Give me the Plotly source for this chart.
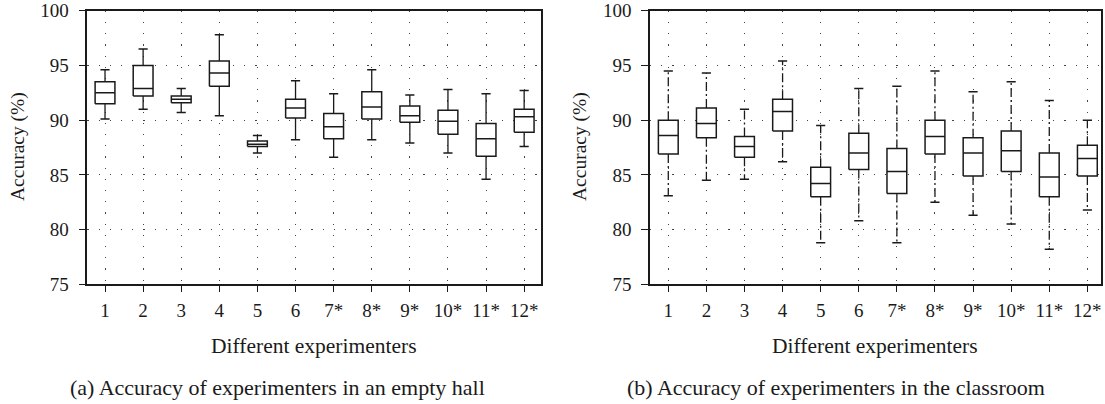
import plotly.graph_objects as go

categories = ["1", "2", "3", "4", "5", "6", "7*", "8*", "9*", "10*", "11*", "12*"]
positions = list(range(1, 13))

# (a) empty hall
hall_upper = [94.6, 96.5, 92.9, 97.8, 88.6, 93.6, 92.4, 94.6, 92.3, 92.8, 92.4, 92.7]
hall_q3 = [93.5, 95.0, 92.2, 95.4, 88.1, 91.9, 90.6, 92.6, 91.3, 90.9, 89.7, 91.0]
hall_median = [92.5, 92.9, 91.9, 94.3, 87.8, 91.1, 89.4, 91.2, 90.4, 89.9, 88.3, 90.3]
hall_q1 = [91.5, 92.2, 91.6, 93.1, 87.6, 90.2, 88.3, 90.1, 89.8, 88.7, 86.7, 88.9]
hall_lower = [90.1, 91.0, 90.7, 90.4, 87.0, 88.2, 86.6, 88.2, 87.9, 87.0, 84.6, 87.6]

# (b) classroom
class_upper = [94.5, 94.3, 91.0, 95.4, 89.5, 92.9, 93.1, 94.5, 92.6, 93.5, 91.8, 90.0]
class_q3 = [90.0, 91.1, 88.5, 91.9, 85.7, 88.8, 87.4, 90.0, 88.4, 89.0, 87.0, 87.7]
class_median = [88.6, 89.7, 87.6, 90.8, 84.2, 87.0, 85.3, 88.5, 87.0, 87.2, 84.8, 86.5]
class_q1 = [86.9, 88.4, 86.6, 89.0, 83.0, 85.5, 83.3, 86.9, 84.9, 85.3, 83.0, 84.9]
class_lower = [83.1, 84.5, 84.6, 86.2, 78.8, 80.8, 78.8, 82.5, 81.3, 80.5, 78.2, 81.8]

FONT = "Liberation Serif"
INK = "#1a1a1a"
BW = 0.26   # box half width (category units)
CW = 0.12   # cap half width

fig = go.Figure()


def add_boxes(xaxis, yaxis, upper, q3, med, q1, lower, whisker_dash):
    bx, by, mx, my, wx, wy, cx, cy = [], [], [], [], [], [], [], []
    for p, u, a, m, b, l in zip(positions, upper, q3, med, q1, lower):
        bx += [p - BW, p + BW, p + BW, p - BW, p - BW, None]
        by += [b, b, a, a, b, None]
        mx += [p - BW, p + BW, None]
        my += [m, m, None]
        wx += [p, p, None, p, p, None]
        wy += [a, u, None, b, l, None]
        cx += [p - CW, p + CW, None, p - CW, p + CW, None]
        cy += [u, u, None, l, l, None]
    common = dict(xaxis=xaxis, yaxis=yaxis, mode="lines", showlegend=False, hoverinfo="skip")
    fig.add_trace(go.Scatter(x=wx, y=wy, line=dict(color=INK, width=1.3, dash=whisker_dash), **common))
    fig.add_trace(go.Scatter(x=cx, y=cy, line=dict(color=INK, width=1.5), **common))
    fig.add_trace(go.Scatter(x=bx, y=by, line=dict(color=INK, width=1.5),
                             fill="toself", fillcolor="white", **common))
    fig.add_trace(go.Scatter(x=mx, y=my, line=dict(color=INK, width=1.5), **common))


add_boxes("x", "y", hall_upper, hall_q3, hall_median, hall_q1, hall_lower, "solid")
add_boxes("x2", "y2", class_upper, class_q3, class_median, class_q1, class_lower, "9px,3px,2px,3px")

W, H = 1105, 404
xd1 = [87.3 / W, 541.3 / W]
xd2 = [650.0 / W, 1100.7 / W]
yd = [1 - 284.3 / H, 1 - 10.7 / H]

TICKSIZE = 19
YTITLESIZE = 19.5
XTITLESIZE = 21.5
CAPSIZE = 22

xcommon = dict(
    tickmode="array", tickvals=positions, ticktext=categories,
    showline=True, linecolor=INK, linewidth=1.5, mirror=True,
    ticks="outside", ticklen=6, tickcolor=INK, tickwidth=1.2,
    showgrid=True, gridcolor="#444", gridwidth=1.2, griddash="1.2px,10px",
    zeroline=False, automargin=False, ticklabelstandoff=2,
    tickfont=dict(family=FONT, size=TICKSIZE, color=INK),
)
ycommon = dict(
    range=[75, 100], tickmode="array", tickvals=[75, 80, 85, 90, 95, 100],
    showline=True, linecolor=INK, linewidth=1.5, mirror=True,
    ticks="outside", ticklen=7, tickcolor=INK, tickwidth=1.2,
    showgrid=True, gridcolor="#444", gridwidth=1.2, griddash="1.2px,10px",
    zeroline=False, automargin=False, ticklabelstandoff=6,
    tickfont=dict(family=FONT, size=TICKSIZE, color=INK),
)

fig.update_layout(
    template="none",
    width=W, height=H,
    margin=dict(l=0, r=0, t=0, b=0, autoexpand=False),
    paper_bgcolor="white", plot_bgcolor="white",
    xaxis=dict(domain=xd1, range=[0.535, 12.45], anchor="y", **xcommon),
    yaxis=dict(domain=yd, anchor="x", **ycommon),
    xaxis2=dict(domain=xd2, range=[0.52, 12.35], anchor="y2", **xcommon),
    yaxis2=dict(domain=yd, anchor="x2", **ycommon),
    font=dict(family=FONT, color=INK),
)

yt_font = dict(family=FONT, size=YTITLESIZE, color=INK)
xt_font = dict(family=FONT, size=XTITLESIZE, color=INK)
cap_font = dict(family=FONT, size=CAPSIZE, color=INK)
annotations = [
    dict(text="Accuracy (%)", x=18 / W, y=1 - 147 / H, textangle=-90, font=yt_font),
    dict(text="Accuracy (%)", x=580 / W, y=1 - 147 / H, textangle=-90, font=yt_font),
    dict(text="Different experimenters", x=(xd1[0] + xd1[1]) / 2, y=1 - 346 / H, font=xt_font),
    dict(text="Different experimenters", x=(xd2[0] + xd2[1]) / 2, y=1 - 346 / H, font=xt_font),
    dict(text="(a) Accuracy of experimenters in an empty hall", x=277 / W, y=1 - 387 / H, font=cap_font),
    dict(text="(b) Accuracy of experimenters in the classroom", x=836 / W, y=1 - 387 / H, font=cap_font),
]
for a in annotations:
    a.update(xref="paper", yref="paper", showarrow=False, xanchor="center", yanchor="middle")
fig.update_layout(annotations=annotations)

fig.write_html(
    "out.html",
    config={"displayModeBar": False},
    post_script="document.body.style.margin='0';document.body.style.overflow='hidden';",
)
